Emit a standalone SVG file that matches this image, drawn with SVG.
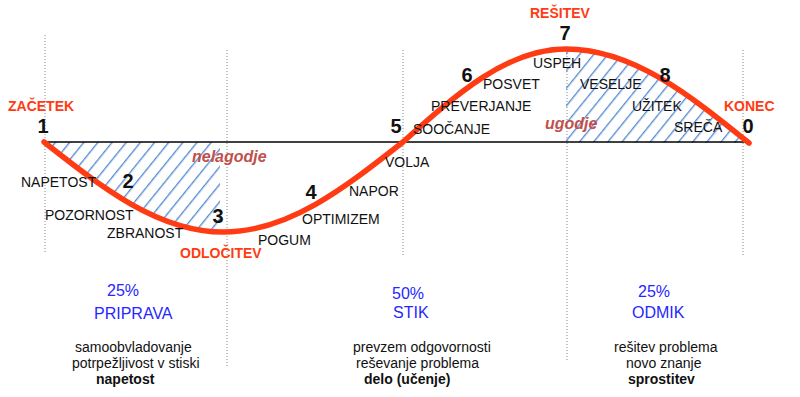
<svg xmlns="http://www.w3.org/2000/svg" width="800" height="397" viewBox="0 0 800 397">
<style>
text{font-family:"Liberation Sans",Arial,sans-serif;}
.lbl{font-size:14px;fill:#111;}
.num{font-size:20px;font-weight:bold;fill:#111;text-anchor:middle;}
.red{font-size:14px;font-weight:bold;fill:#ff3b14;}
.mood{font-size:16px;font-weight:bold;font-style:italic;fill:#c0504d;}
.blue{font-size:16px;fill:#2626ff;}
.desc{font-size:14px;fill:#111;}
.bold{font-size:14px;font-weight:bold;fill:#111;}
.dot{stroke:#888;stroke-width:1;stroke-dasharray:1 2;fill:none;}
</style>
<defs>
<pattern id="hatch" patternUnits="userSpaceOnUse" width="11" height="11" patternTransform="rotate(39)">
<line x1="0.7" y1="0" x2="0.7" y2="11" stroke="#4f86d1" stroke-width="1.3"/>
</pattern>
<clipPath id="leftClip"><rect x="0" y="0" width="220" height="397"/></clipPath>
</defs>
<rect width="800" height="397" fill="#fff"/>
<g id="grid">
<line class="dot" x1="45" y1="35" x2="45" y2="253"/>
<line class="dot" x1="227" y1="50" x2="227" y2="367"/>
<line class="dot" x1="403" y1="50" x2="403" y2="255"/>
<line class="dot" x1="567" y1="50" x2="567" y2="361"/>
<line class="dot" x1="743" y1="50" x2="743" y2="255"/>
</g>
<g id="hatching">
<path d="M44,142 C102.6,188.1 158.6,232 223.5,232 L223.5,142 Z" fill="url(#hatch)" clip-path="url(#leftClip)"/>
<path d="M566,49 C632.2,49 689.3,94.8 749,143 L566,142 Z" fill="url(#hatch)"/>
</g>
<g id="connectors">
<line x1="44" y1="142" x2="748" y2="142" stroke="#000" stroke-width="1.5"/>
<path d="M44,142 C102.6,188.1 158.6,232 223.5,232 C288.4,232 344.4,188.1 403,142 C456.2,94.3 507,49 566,49 C632.2,49 689.3,94.8 749,143" fill="none" stroke="#ff3b14" stroke-width="5.5" stroke-linecap="round"/>
</g>
<g id="labels">
<text class="red" x="8" y="111">ZAČETEK</text>
<text class="num" x="43" y="133">1</text>
<text class="mood" x="192" y="162">nelagodje</text>
<text class="lbl" x="21" y="187">NAPETOST</text>
<text class="num" x="128" y="188">2</text>
<text class="lbl" x="45" y="220">POZORNOST</text>
<text class="num" x="218" y="223">3</text>
<text class="lbl" x="107" y="238">ZBRANOST</text>
<text class="red" x="180" y="258">ODLOČITEV</text>
<text class="lbl" x="258" y="245">POGUM</text>
<text class="num" x="311" y="199">4</text>
<text class="lbl" x="302" y="224">OPTIMIZEM</text>
<text class="lbl" x="349" y="196">NAPOR</text>
<text class="lbl" x="385" y="167">VOLJA</text>
<text class="num" x="396" y="133">5</text>
<text class="lbl" x="413" y="134">SOOČANJE</text>
<text class="lbl" x="431" y="111">PREVERJANJE</text>
<text class="num" x="467" y="82">6</text>
<text class="lbl" x="483" y="89">POSVET</text>
<text class="red" x="530" y="18">REŠITEV</text>
<text class="num" x="565" y="40">7</text>
<text class="lbl" x="533" y="68">USPEH</text>
<text class="lbl" x="580" y="89">VESELJE</text>
<text class="num" x="665" y="82">8</text>
<text class="lbl" x="632" y="111">UŽITEK</text>
<text class="red" x="724" y="111">KONEC</text>
<text class="mood" x="545" y="129">ugodje</text>
<text class="lbl" x="674" y="132">SREČA</text>
<text class="num" x="748" y="133">0</text>
</g>
<g id="phase-priprava">
<text class="blue" x="107" y="296">25%</text>
<text class="blue" x="94" y="319">PRIPRAVA</text>
<text class="desc" x="75" y="352">samoobvladovanje</text>
<text class="desc" x="72" y="368">potrpežljivost v stiski</text>
<text class="bold" x="96" y="384">napetost</text>
</g>
<g id="phase-stik">
<text class="blue" x="392" y="299">50%</text>
<text class="blue" x="393" y="318">STIK</text>
<text class="desc" x="353" y="352">prevzem odgovornosti</text>
<text class="desc" x="356" y="368">reševanje problema</text>
<text class="bold" x="364" y="384">delo (učenje)</text>
</g>
<g id="phase-odmik">
<text class="blue" x="638" y="297">25%</text>
<text class="blue" x="632" y="318">ODMIK</text>
<text class="desc" x="614" y="352">rešitev problema</text>
<text class="desc" x="626" y="368">novo znanje</text>
<text class="bold" x="628" y="384">sprostitev</text>
</g>
</svg>
